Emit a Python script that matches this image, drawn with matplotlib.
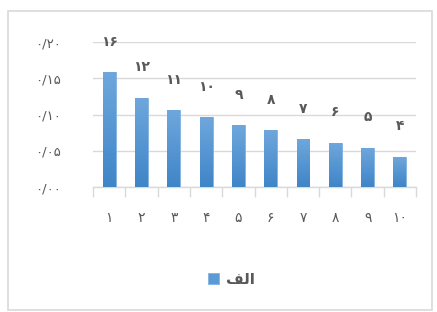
import numpy as np
import matplotlib.pyplot as plt
from matplotlib.patches import Rectangle
from matplotlib.ticker import FixedLocator
from matplotlib.colors import LinearSegmentedColormap

# داده‌ها (خوانده شده از تصویر)
categories = ["۱", "۲", "۳", "۴", "۵", "۶", "۷", "۸", "۹", "۱۰"]
values = [0.158, 0.123, 0.106, 0.096, 0.085, 0.078, 0.066, 0.061, 0.054, 0.042]
value_labels = ["۱۶", "۱۲", "۱۱", "۱۰", "۹", "۸", "۷", "۶", "۵", "۴"]
y_ticks = [0.0, 0.05, 0.10, 0.15, 0.20]
y_tick_labels = ["۰/۰۰", "۰/۰۵", "۰/۱۰", "۰/۱۵", "۰/۲۰"]
series_name = "\uFED2\uFEDF\uFE8D"  # "الف" با شکل‌های نمایشی

plt.rcParams['font.family'] = ['DejaVu Sans']
text_color = "#595959"
grid_color = "#d9d9d9"
bar_color = "#5b9bd5"
grad = LinearSegmentedColormap.from_list("g", ["#3f85c8", "#6fa7dc"])

fig = plt.figure(figsize=(4.37, 3.12), dpi=100)
fig.patches.append(Rectangle((8 / 437, 0.005), 424 / 437, 1 - 11 / 312 - 0.005,
                             transform=fig.transFigure, fill=False,
                             edgecolor=grid_color, linewidth=1.2))

ax = fig.add_axes([0.213, 0.4006, 0.739, 0.4647])
x = np.arange(len(categories))
bars = ax.bar(x, values, width=0.4, color=bar_color, edgecolor="#7fb2e0",
              linewidth=0.6, label=series_name, zorder=3)

# گرادیان عمودی داخل هر ستون
g = np.linspace(0, 1, 100).reshape(-1, 1)
for b in bars:
    im = ax.imshow(g, cmap=grad, origin="lower", aspect="auto", zorder=3.5,
                   extent=[b.get_x(), b.get_x() + b.get_width(), 0, b.get_height()])
    im.set_clip_path(b)

for xi, v, lab in zip(x, values, value_labels):
    ax.annotate(lab, (xi, v), xytext=(0, 17), textcoords="offset points",
                ha="center", va="bottom", fontsize=10, fontweight="bold",
                color=text_color)

ax.set_ylim(0, 0.2)
ax.set_xlim(-0.5, len(categories) - 0.5)
ax.set_yticks(y_ticks)
ax.set_yticklabels(y_tick_labels, fontsize=9.5, color=text_color)
ax.set_xticks(x)
ax.set_xticklabels(categories, fontsize=10, color=text_color)
ax.xaxis.set_minor_locator(FixedLocator(np.arange(-0.5, len(categories), 1)))
ax.tick_params(axis="x", which="major", length=0, pad=17)
ax.tick_params(axis="x", which="minor", length=7, color=grid_color, width=1)
ax.tick_params(axis="y", length=0, pad=23)

ax.grid(axis="y", color=grid_color, linewidth=1, zorder=0)
for s in ["top", "right", "left"]:
    ax.spines[s].set_visible(False)
ax.spines["bottom"].set_color(grid_color)
ax.spines["bottom"].set_linewidth(1)

fig.legend(loc="center", bbox_to_anchor=(0.53, 0.105), frameon=False,
           handlelength=0.7, handleheight=0.7, handletextpad=0.5,
           labelcolor=text_color, prop={"weight": "bold", "size": 11})

plt.savefig("out.png", dpi=100)
